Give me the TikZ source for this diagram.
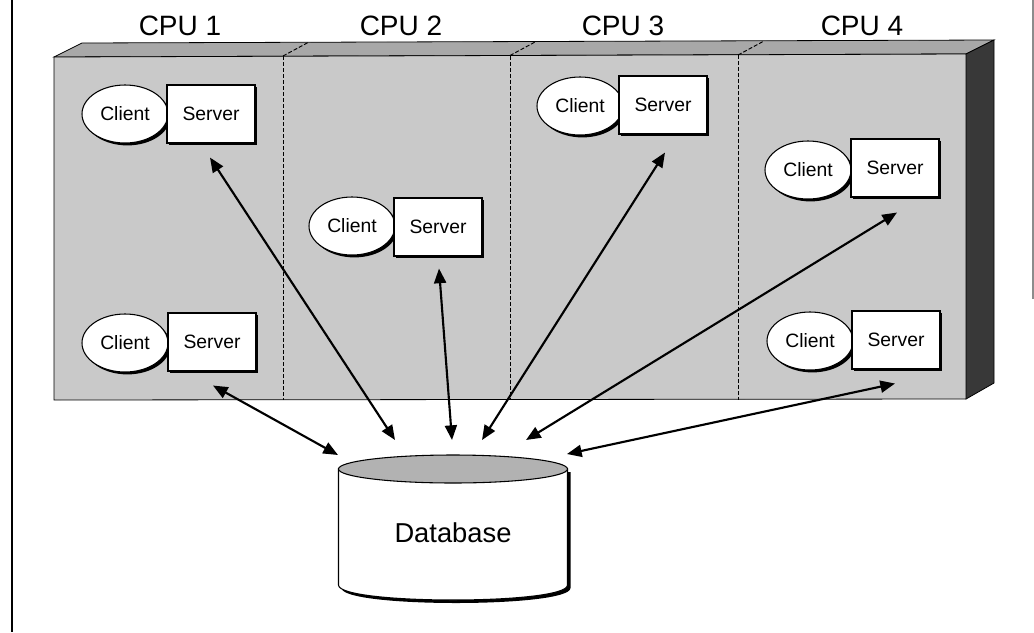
\documentclass[tikz,border=0pt]{standalone}
\usepackage{fontspec}
\setmainfont{Liberation Sans}
\usetikzlibrary{shapes.geometric,arrows.meta,shadows,calc}
\begin{document}
\begin{tikzpicture}[x=0.75pt,y=-0.75pt,
  frontface/.style={fill=black!21,draw=black,line width=0.6pt},
  topface/.style={fill=black!34,draw=black,line width=0.6pt},
  sideface/.style={fill=black!78,draw=black,line width=0.6pt},
  divider/.style={draw=black,line width=0.7pt,dash pattern=on 3pt off 1.5pt},
  cpulabel/.style={font=\fontsize{21}{24}\selectfont,anchor=base,inner sep=0pt},
  clientnode/.style={ellipse,draw,fill=white,line width=0.8pt,minimum width=64.5pt,minimum height=43.5pt,inner sep=0pt,
     font=\fontsize{14.5}{16}\selectfont,
     drop shadow={shadow xshift=1.8pt,shadow yshift=-1.8pt,fill=black,opacity=1}},
  servernode/.style={rectangle,draw,fill=white,line width=0.8pt,minimum width=66pt,minimum height=43.5pt,inner sep=0pt,
     font=\fontsize{14.5}{16}\selectfont,
     drop shadow={shadow xshift=1.8pt,shadow yshift=-1.8pt,fill=black,opacity=1}},
  link/.style={{Triangle[length=11pt,width=9pt]}-{Triangle[length=11pt,width=9pt]},line width=1.6pt},
  dblabel/.style={font=\fontsize{20.5}{24}\selectfont,inner sep=0pt}
]
\useasboundingbox (0,0) rectangle (1034,632);
% frame lines
\draw[line width=0.8pt] (12,0) -- (12,632);
\draw[line width=0.8pt,black!45] (1033,0) -- (1033,299);
% CPU labels
\node[cpulabel] (cpu1) at (180,35) {CPU 1};
\node[cpulabel] (cpu2) at (401,35) {CPU 2};
\node[cpulabel] (cpu3) at (623,35) {CPU 3};
\node[cpulabel] (cpu4) at (862,35) {CPU 4};
% 3D box
\draw[topface] (54,57) -- (82,43) -- (994,40) -- (966,54) -- cycle;
\draw[sideface] (966,54) -- (994,40) -- (994,383) -- (966,399) -- cycle;
\draw[frontface] (54,57) -- (966,54) -- (966,399) -- (54,400) -- cycle;
% dividers
\foreach \x/\yt in {283/56,510/55.5,738/55}{
  \draw[divider] (\x,\yt) -- (\x,400);
  \draw[divider] (\x,\yt) -- (\x+26,\yt-14);
}
% client / server pairs
\node[clientnode] (c1) at (125,114) {Client};
\node[servernode] (s1) at (211,114) {Server};
\node[clientnode] (c2) at (125,343) {Client};
\node[servernode] (s2) at (212,342) {Server};
\node[clientnode] (c3) at (352,226) {Client};
\node[servernode] (s3) at (438,227) {Server};
\node[clientnode] (c4) at (580,106) {Client};
\node[servernode] (s4) at (663,105) {Server};
\node[clientnode] (c5) at (808,170) {Client};
\node[servernode] (s5) at (895,168) {Server};
\node[clientnode] (c6) at (810,341) {Client};
\node[servernode] (s6) at (896,340) {Server};
% database cylinder
\fill[black] (341.5,472) -- (341.5,588) .. controls (341.5,608) and (570.5,608) .. (570.5,588) -- (570.5,472) -- cycle;
\draw[fill=white,line width=0.8pt] (338.5,469) -- (338.5,585) .. controls (338.5,605) and (567.5,605) .. (567.5,585) -- (567.5,469) -- cycle;
\draw[fill=black!30,line width=0.8pt] (453,469) ellipse [x radius=114.5, y radius=14];
\node[dblabel] (db) at (453,533) {Database};
% arrow ends at the database
\coordinate (e1) at (395,440);
\coordinate (e2) at (338,455);
\coordinate (e3) at (452,440);
\coordinate (e4) at (482,440);
\coordinate (e5) at (526,440);
\coordinate (e6) at (567,454);
% connectors
\draw[link] ($(s1.south)+(-1,14)$) -- (e1);
\draw[link] ($(s2.south)+(1,14)$) -- (e2);
\draw[link] ($(s3.south)+(1,12)$) -- (e3);
\draw[link] ($(s4.south)+(2,18)$) -- (e4);
\draw[link] ($(s5.south)+(2,15)$) -- (e5);
\draw[link] ($(s6.south)+(-1,14)$) -- (e6);
\end{tikzpicture}
\end{document}
